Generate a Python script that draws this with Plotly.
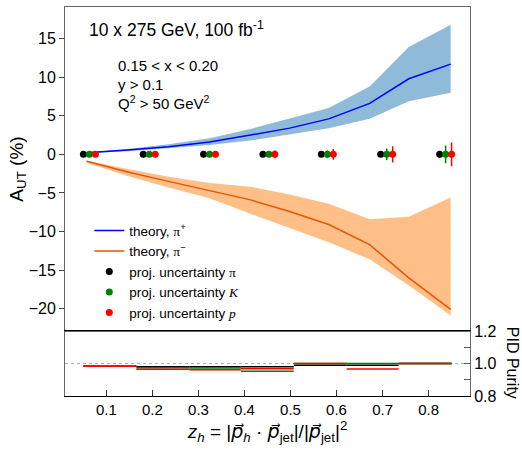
import plotly.graph_objects as go

# ---------------- data ----------------
z_theory = [0.057, 0.146, 0.235, 0.324, 0.413, 0.498, 0.583, 0.672, 0.757, 0.848]
pip_mid = [0.2, 0.55, 1.0, 1.6, 2.5, 3.4, 4.6, 6.6, 9.8, 11.7]
pip_hi = [0.25, 0.7, 1.3, 2.1, 3.3, 4.6, 6.0, 8.8, 13.9, 16.8]
pip_lo = [0.15, 0.4, 0.8, 1.2, 1.8, 2.6, 3.4, 4.6, 6.9, 8.0]
pim_mid = [-0.9, -2.3, -3.5, -4.7, -5.9, -7.4, -9.1, -11.7, -16.0, -20.1]
pim_hi = [-0.8, -1.9, -2.9, -3.7, -4.2, -5.2, -6.4, -8.4, -8.1, -5.6]
pim_lo = [-1.1, -2.8, -4.3, -5.7, -7.7, -9.5, -11.4, -13.6, -17.0, -20.9]

z_pi = [0.050, 0.180, 0.311, 0.440, 0.567, 0.696, 0.824]
z_K = [0.063, 0.193, 0.324, 0.453, 0.580, 0.709, 0.837]
z_p = [0.076, 0.206, 0.337, 0.466, 0.593, 0.722, 0.850]
asym_proj = [0, 0, 0, 0, 0, 0, 0]
err_pi = [0.05, 0.08, 0.1, 0.15, 0.2, 0.3, 0.45]
err_K = [0.15, 0.2, 0.25, 0.35, 0.5, 0.75, 1.15]
err_p = [0.2, 0.25, 0.35, 0.5, 0.7, 1.05, 1.55]

bin_edges = [0.05, 0.165, 0.28, 0.392, 0.507, 0.622, 0.735, 0.85]
purity_pi = [0.983, 0.98, 0.98, 0.98, 0.99, 0.99, 1.0]
purity_K = [0.983, 0.965, 0.972, 0.953, 1.0, 1.0, 1.0]
purity_p = [0.983, 0.974, 0.962, 0.968, 1.0, 0.967, 1.0]

xticks = [0.1, 0.2, 0.3, 0.4, 0.5, 0.6, 0.7, 0.8]
yticks = [-20, -15, -10, -5, 0, 5, 10, 15]

FONT = "Liberation Sans, Arial, sans-serif"
SERIF = "Liberation Serif, DejaVu Serif, serif"

fig = go.Figure()

# theory bands
fig.add_trace(go.Scatter(x=z_theory, y=pip_hi, mode="lines", line=dict(width=0),
                         showlegend=False, hoverinfo="skip"))
fig.add_trace(go.Scatter(x=z_theory, y=pip_lo, mode="lines", line=dict(width=0),
                         fill="tonexty", fillcolor="rgba(31,119,180,0.5)",
                         showlegend=False, hoverinfo="skip"))
fig.add_trace(go.Scatter(x=z_theory, y=pim_hi, mode="lines", line=dict(width=0),
                         showlegend=False, hoverinfo="skip"))
fig.add_trace(go.Scatter(x=z_theory, y=pim_lo, mode="lines", line=dict(width=0),
                         fill="tonexty", fillcolor="rgba(255,127,14,0.5)",
                         showlegend=False, hoverinfo="skip"))

pi_s = f'<span style="font-family:{SERIF}">π</span>'
fig.add_trace(go.Scatter(x=z_theory, y=pip_mid, mode="lines",
                         line=dict(color="#0000ff", width=1.5),
                         name=f"theory, {pi_s}<sup>+</sup>"))
fig.add_trace(go.Scatter(x=z_theory, y=pim_mid, mode="lines",
                         line=dict(color="#e0570b", width=1.5),
                         name=f"theory, {pi_s}<sup>−</sup>"))

for zz, ee, col, lab in [
    (z_pi, err_pi, "black", f"proj. uncertainty {pi_s}"),
    (z_K, err_K, "green", f'proj. uncertainty <span style="font-family:{SERIF}"><i>K</i></span>'),
    (z_p, err_p, "red", f'proj. uncertainty <span style="font-family:{SERIF}"><i>p</i></span>'),
]:
    fig.add_trace(go.Scatter(x=zz, y=asym_proj, mode="markers",
                             marker=dict(color=col, size=7),
                             error_y=dict(type="data", array=ee, color=col,
                                          thickness=1.5, width=0),
                             name=lab))

# purity step lines
def steps(vals):
    xs, ys = [], []
    for i, v in enumerate(vals):
        xs += [bin_edges[i], bin_edges[i + 1], None]
        ys += [v, v, None]
    return xs, ys

for vals, col in [(purity_pi, "black"), (purity_K, "green"), (purity_p, "red")]:
    xs, ys = steps(vals)
    fig.add_trace(go.Scatter(x=xs, y=ys, mode="lines", line=dict(color=col, width=1.5),
                             xaxis="x2", yaxis="y2", showlegend=False, hoverinfo="skip"))

VEC = '<span style="font-family:DejaVu Sans">p⃗</span>'
xtitle = (f"<i>z<sub>h</sub></i> = |<i>{VEC}<sub>h</sub></i> · <i>{VEC}</i><sub>jet</sub>|/"
          f"|<i>{VEC}</i><sub>jet</sub>|<sup>2</sup>")

fig.update_layout(
    width=522, height=452,
    margin=dict(l=65, r=52, t=7, b=56, autoexpand=False),
    paper_bgcolor="white", plot_bgcolor="white",
    font=dict(family=FONT, size=15, color="black"),
    showlegend=True,
    legend=dict(x=0.06, y=0.465, xanchor="left", yanchor="top", traceorder="normal",
                bgcolor="rgba(0,0,0,0)", font=dict(size=13.5, family=FONT),
                tracegroupgap=0, itemwidth=30),
    xaxis=dict(domain=[0, 1], anchor="y", range=[0.01, 0.89], showticklabels=False,
               ticks="", showgrid=False, zeroline=False, showline=True, automargin=False,
               linecolor="#666", linewidth=1, mirror=True, matches="x2"),
    yaxis=dict(domain=[0.167, 1], anchor="x", range=[-22.9, 19.1], automargin=False,
               tickvals=yticks, ticks="outside", ticklen=5, tickcolor="#444",
               showgrid=False, zeroline=False, showline=True, linecolor="#666",
               linewidth=1, mirror=True, tickfont=dict(size=16),
               title=dict(text="A<sub>UT</sub> (%)", font=dict(size=19), standoff=0)),
    xaxis2=dict(domain=[0, 1], anchor="y2", range=[0.01, 0.89], tickvals=xticks,
                ticktext=[f"{t:.1f}" for t in xticks], automargin=False,
                ticks="inside", ticklen=6, tickcolor="#333", showgrid=False,
                zeroline=False, showline=True, linecolor="black", linewidth=1,
                mirror=True, tickfont=dict(size=15),
                title=dict(text=xtitle, font=dict(size=19), standoff=6)),
    yaxis2=dict(domain=[0, 0.167], anchor="x2", side="right", range=[0.8, 1.2],
                tickvals=[0.8, 0.9, 1.0, 1.1, 1.2], ticktext=["0.8", "", "1.0", "", "1.2"],
                ticks="inside", ticklen=6, tickcolor="#555", showgrid=False, automargin=False,
                zeroline=False, showline=True, linecolor="#666", linewidth=1,
                mirror=True, tickfont=dict(size=16)),
)

fig.add_shape(type="line", xref="x2 domain", yref="y2", x0=0, x1=1, y0=1.0, y1=1.0,
              line=dict(color="#aaa", width=1, dash="dot"), layer="below")

fig.add_annotation(text="10 x 275 GeV, 100 fb<sup>-1</sup>", xref="paper", yref="paper",
                   x=0.055, y=0.943, xanchor="left", yanchor="middle", showarrow=False,
                   font=dict(size=17.5))
for txt, yy in [("0.15 < x < 0.20", 0.849), ("y > 0.1", 0.80), ("Q<sup>2</sup> > 50 GeV<sup>2</sup>", 0.755)]:
    fig.add_annotation(text=txt, xref="paper", yref="paper", x=0.127, y=yy,
                       xanchor="left", yanchor="middle", showarrow=False,
                       font=dict(size=15))
fig.add_annotation(text="PID Purity", xref="paper", yref="paper", x=1.104, y=0.085,
                   xanchor="center", yanchor="middle", textangle=90, showarrow=False,
                   font=dict(size=16))

fig.write_html("out.html", config={"displayModeBar": False},
               post_script="document.body.style.margin='0';document.body.style.padding='0';")
